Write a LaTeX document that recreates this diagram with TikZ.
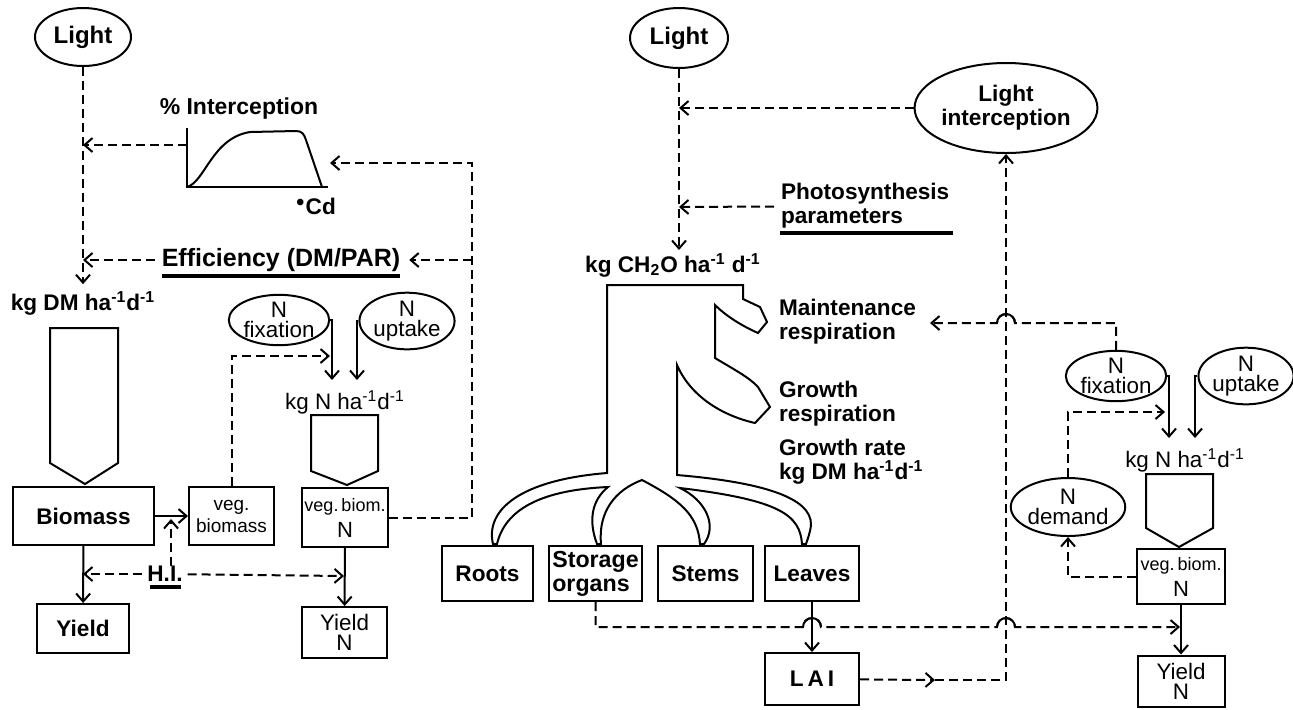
\documentclass[tikz,border=0pt]{standalone}
\usepackage{fontspec}
\setmainfont{Liberation Sans}
\usetikzlibrary{shapes.geometric,arrows.meta}
\begin{document}
\begin{tikzpicture}[x=0.5pt,y=-0.5pt,
  >={Straight Barb[length=4pt,width=7pt]},
  line width=1pt,
  dline/.style={dash pattern=on 4.5pt off 2.5pt},
  bold/.style={font=\fontsize{11.3}{12}\selectfont\bfseries},
  thin/.style={font=\fontsize{11.2}{10}\selectfont},
  oval/.style={draw,ellipse,inner sep=0pt,align=center},
  box/.style={draw,rectangle,inner sep=0pt,align=center},
  lbl/.style={inner sep=0pt,align=center},
  uline/.style={line width=1.6pt}]
\useasboundingbox (0,0) rectangle (1293,709);

% ================= LEFT =================
\node[oval,bold,font=\fontsize{12}{12}\selectfont\bfseries,minimum width=48pt,minimum height=29pt] (lightL) at (83,37) {Light};
\node[lbl,bold] (kgdm) at (83,303) {kg DM ha\textsuperscript{-1}d\textsuperscript{-1}};
\coordinate (vA) at (83,145);
\coordinate (vB) at (83,260);
\draw[dline,->,shorten >=3pt] (lightL) -- (kgdm);

% interception graph
\node[lbl,bold,font=\fontsize{11.5}{12}\selectfont\bfseries] (pint) at (239,109) {\% Interception};
\node[lbl,bold] (cd) at (316,206) {$^{\bullet}$Cd};
\draw (187,128) -- (187,187) -- (328,187);
\draw (187,187) .. controls (205,182) and (212,138) .. (250,132) -- (296,131)
      .. controls (302,131) and (304,134) .. (306,140) -- (322,187);
\coordinate (gL) at (187,145);
\coordinate (gR) at (330,163);
\draw[dline,->] (gL) -- (vA);

\node[lbl,bold,font=\fontsize{12.5}{12}\selectfont\bfseries] (eff) at (281,260) {Efficiency (DM/PAR)};
\draw[uline] (162,276) -- (400,276);
\draw[dline,->,shorten <=3pt] (eff) -- (vB);

% biomass column
\draw (50,328) -- (118,328) -- (118,463) -- (85,484) -- (50,463) -- cycle;
\node[box,bold,minimum width=70.5pt,minimum height=29pt] (biomass) at (83.5,516) {Biomass};
\node[box,font=\fontsize{9.5}{11}\selectfont,minimum width=42.5pt,minimum height=29pt] (vegbio) at (231.5,516) {veg.\\biomass};
\node[box,bold,minimum width=46pt,minimum height=24.5pt] (yieldL) at (83,628.5) {Yield};
\draw[->] (biomass) -- (vegbio);
\draw[->] (biomass) -- (yieldL);

% H.I.
\node[lbl,bold] (HI) at (165,574) {H.I.};
\draw[uline] (150,587) -- (181,587);
\coordinate (hiT) at (171,566);
\coordinate (hiA) at (171,519);
\coordinate (hiL) at (83,574);
\coordinate (hiR) at (344,576);
\draw[dline,->] (hiT) -- (hiA);
\draw[dline,->,shorten <=2pt] (HI) -- (hiL);
\draw[dline,->,shorten <=2pt] (HI) -- (hiR);

% N part (left)
\node[oval,thin,minimum width=46pt,minimum height=25pt] (fixL) at (279,320) {N\\fixation};
\node[oval,thin,minimum width=45.5pt,minimum height=26.5pt] (uptL) at (407,321) {N\\uptake};
\coordinate (fa) at (332,380);
\coordinate (ua) at (357,380);
\draw[->] (fixL.east) -| (fa);
\draw[->] (uptL.west) -| (ua);
\coordinate (vb2) at (330,356);
\draw[dline,->] (vegbio.north) |- (vb2);
\node[lbl,thin] (kgN) at (345,402) {kg N ha\textsuperscript{-1}d\textsuperscript{-1}};
\draw (311,415) -- (378,415) -- (378,471) -- (347,485) -- (311,471) -- cycle;
\node[box,font=\fontsize{9}{13}\selectfont,minimum width=43pt,minimum height=29.5pt] (vegbiomN) at (345,517.5) {veg.\hspace{1.5pt}biom.\\{\fontsize{11}{11}\selectfont N}};
\node[box,thin,minimum width=42.5pt,minimum height=25.5pt] (yieldN) at (344.5,632.5) {Yield\\N};
\draw[->] (vegbiomN) -- (yieldN);

% feedback loop
\coordinate (fbTop) at (472,163);
\coordinate (fbMid) at (472,260);
\draw[dline,->] (vegbiomN.east) -| (fbTop) -- (gR);
\draw[dline,->,shorten >=4pt] (fbMid) -- (eff);

% ================= RIGHT =================
\node[oval,bold,font=\fontsize{12}{12}\selectfont\bfseries,minimum width=49pt,minimum height=30pt] (lightR) at (679,38) {Light};
\node[oval,bold,minimum width=77pt,minimum height=45pt] (lightint) at (1006,108) {Light\\interception};
\node[lbl,bold] (kgch) at (673,265) {kg CH\textsubscript{2}O ha\textsuperscript{-1} d\textsuperscript{-1}};
\coordinate (li1) at (679,108);
\coordinate (ph1) at (679,207);
\coordinate (kc) at (679,250);
\draw[dline,->] (lightR) -- (kc);
\draw[dline,->] (lightint) -- (li1);
\node[lbl,bold,anchor=west,align=left] (photo) at (780,206) {Photosynthesis\\parameters};
\draw[uline] (780,233) -- (953,233);
\draw[dline,->,shorten <=3pt] (photo) -- (ph1);

% CH2O tree
\draw (607,285) -- (743,285) -- (743,299) -- (760,307) -- (767,322) -- (758,333)
  .. controls (740,325) and (725,315) .. (715,305) -- (715,358)
  .. controls (735,370) and (750,378) .. (758,387) -- (770,407) -- (755,423)
  .. controls (720,415) and (690,395) .. (677,365) -- (677,475)
  .. controls (760,482) and (812,497) .. (811,525)
  .. controls (810,533) and (808,538) .. (806,544) -- (802,544)
  .. controls (800,515) and (780,500) .. (680,488)
  .. controls (705,500) and (718,525) .. (704,544) -- (700,544)
  .. controls (698,515) and (680,500) .. (642,480)
  .. controls (615,490) and (598,512) .. (601,544) -- (597,544)
  .. controls (588,520) and (592,500) .. (608,487)
  .. controls (540,490) and (505,510) .. (497,544) -- (493,544)
  .. controls (485,510) and (520,480) .. (607,473) -- cycle;

\node[lbl,bold,anchor=west,align=left] (maint) at (778,322) {Maintenance\\respiration};
\node[lbl,bold,anchor=west,align=left] (grresp) at (778,404) {Growth\\respiration};
\node[lbl,bold,anchor=west,align=left] (grrate) at (778,462) {Growth rate\\kg DM ha\textsuperscript{-1}d\textsuperscript{-1}};

\node[box,bold,minimum width=45.5pt,minimum height=27.5pt] (roots) at (487.5,573.5) {Roots};
\node[box,bold,font=\fontsize{11.6}{12}\selectfont\bfseries,minimum width=46.5pt,minimum height=27.5pt,align=left] (storage) at (595.5,573.5) {Storage\\organs};
\node[box,bold,minimum width=47.5pt,minimum height=27.5pt] (stems) at (705.5,573.5) {Stems};
\node[box,bold,minimum width=47pt,minimum height=27.5pt] (leaves) at (812,573.5) {Leaves};
\node[box,bold,minimum width=47pt,minimum height=26pt] (lai) at (812,679) {L\hspace{2pt}A\hspace{2pt}I};
\draw[->] (leaves) -- (lai);

% N part (right)
\node[oval,thin,minimum width=46pt,minimum height=24pt] (fixR) at (1116,376) {N\\fixation};
\node[oval,thin,minimum width=44pt,minimum height=24pt] (uptR) at (1246,376) {N\\uptake};
\node[oval,thin,minimum width=47.5pt,minimum height=29pt] (demand) at (1068,507) {N\\demand};
\coordinate (fr) at (1169,438);
\coordinate (ur) at (1195,438);
\draw[->] (fixR.east) -| (fr);
\draw[->] (uptR.west) -| (ur);
\node[lbl,thin] (kgN2) at (1185,460) {kg N ha\textsuperscript{-1}d\textsuperscript{-1}};
\draw (1146,474) -- (1213,474) -- (1213,528) -- (1179,547) -- (1146,528) -- cycle;
\node[box,font=\fontsize{9}{13}\selectfont,minimum width=44pt,minimum height=27.5pt] (vegbiomN2) at (1181,576.5) {veg.\hspace{1.5pt}biom.\\{\fontsize{11}{11}\selectfont N}};
\node[box,thin,minimum width=43.5pt,minimum height=25.5pt] (yieldN2) at (1181,681) {Yield\\N};
\draw[->] (vegbiomN2) -- (yieldN2);
\coordinate (dn) at (1165,412);
\draw[dline,->] (vegbiomN2.west) -| (demand.south);
\draw[dline,->] (demand.north) |- (dn);

% maintenance feedback with hop
\coordinate (mTop) at (1116,323);
\coordinate (mr) at (930,323);
\draw[dline,->] (fixR.north) -- (mTop) -- (1015,323) arc[start angle=0,end angle=180,radius=4.5pt] -- (mr);
\draw (1015,323) arc[start angle=0,end angle=180,radius=4.5pt];

% LAI to light interception
\coordinate (laiM) at (935,680);
\coordinate (laiC) at (1006,680);
\draw[dline,->] (lai) -- (laiM);
\draw[dline,->] (laiM) -- (laiC) -- (lightint.south);

% storage to yield N with hops
\coordinate (stA) at (595.5,627);
\coordinate (stB) at (1180,627);
\draw[dline,->] (storage.south) -- (stA) -- (803,627) arc[start angle=180,end angle=0,radius=4.5pt]
  -- (997,627) arc[start angle=180,end angle=0,radius=4.5pt] -- (stB);
\draw (803,627) arc[start angle=180,end angle=0,radius=4.5pt];
\draw (997,627) arc[start angle=180,end angle=0,radius=4.5pt];
\end{tikzpicture}
\end{document}
